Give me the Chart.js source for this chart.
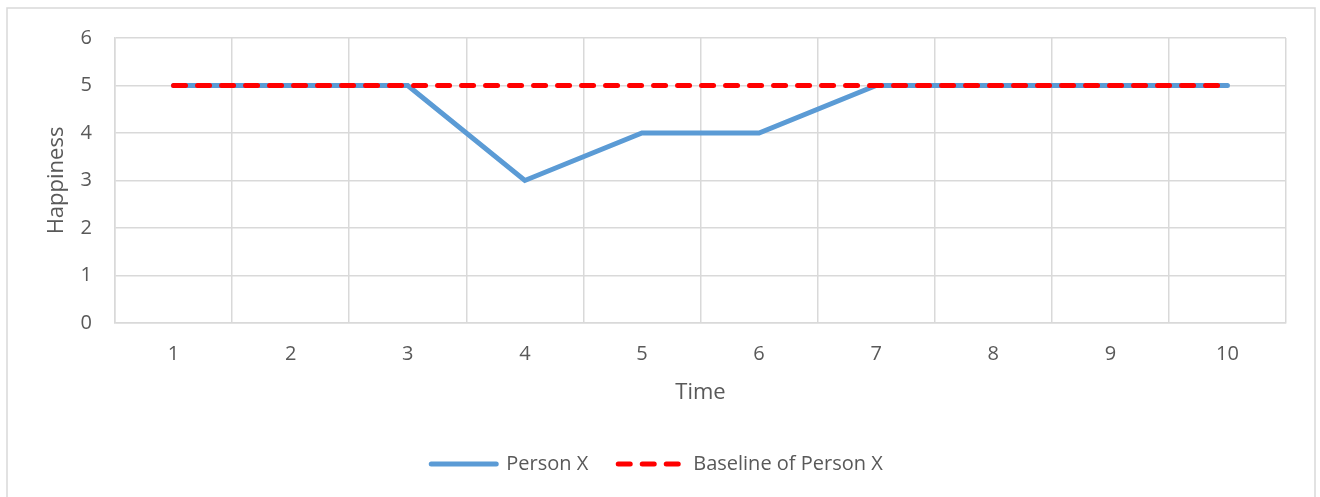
<!DOCTYPE html>
<html>
<head>
<meta charset="utf-8">
<script src="https://cdn.jsdelivr.net/npm/chart.js@4.4.1/dist/chart.umd.min.js"></script>
<style>
  html, body { margin: 0; padding: 0; background: #fff; }
  #wrap { position: relative; width: 1320px; height: 497px; }
</style>
</head>
<body>
<div id="wrap"><canvas id="chart" width="1320" height="497"></canvas></div>
<script>
// chart data
const timeLabels = ['1', '2', '3', '4', '5', '6', '7', '8', '9', '10'];
const personX = [5, 5, 5, 3, 4, 4, 5, 5, 5, 5];
const baselineX = [5, 5, 5, 5, 5, 5, 5, 5, 5, 5];

const textColor = '#595959';
const gridColor = '#d9d9d9';
const fontFamily = "'Open Sans', 'Liberation Sans', sans-serif";

// light frame round the whole chart, like the Excel chart box
const frame = {
  id: 'frame',
  beforeDraw(chart) {
    const ctx = chart.ctx;
    ctx.save();
    ctx.strokeStyle = gridColor;
    ctx.lineWidth = 1.5;
    ctx.strokeRect(7, 8, 1308, 600);
    ctx.restore();
  }
};

const ctx = document.getElementById('chart').getContext('2d');

new Chart(ctx, {
  type: 'line',
  data: {
    labels: timeLabels,
    datasets: [
      {
        label: 'Person X',
        data: personX,
        borderColor: '#5b9bd5',
        backgroundColor: '#5b9bd5',
        borderWidth: 5,
        borderCapStyle: 'round',
        pointRadius: 0,
        tension: 0,
        order: 1
      },
      {
        label: 'Baseline of Person X',
        data: baselineX,
        borderColor: '#ff0000',
        backgroundColor: '#ff0000',
        borderWidth: 5,
        borderDash: [12, 12],
        borderCapStyle: 'round',
        pointRadius: 0,
        tension: 0,
        order: 0
      }
    ]
  },
  options: {
    responsive: false,
    animation: false,
    layout: {
      padding: { top: 38, right: 34, bottom: 13, left: 28 }
    },
    plugins: {
      tooltip: { enabled: false },
      legend: {
        position: 'bottom',
        labels: {
          usePointStyle: true,
          pointStyle: 'line',
          pointStyleWidth: 65,
          padding: 30,
          color: textColor,
          font: { family: fontFamily, size: 20 },
          sort: (a, b) => a.datasetIndex - b.datasetIndex,
          // point style legend drops the dash, so put the line style back
          generateLabels(chart) {
            const items = Chart.defaults.plugins.legend.labels.generateLabels(chart);
            items.forEach(it => {
              const ds = chart.data.datasets[it.datasetIndex];
              it.strokeStyle = ds.borderColor;
              it.fillStyle = ds.borderColor;
              it.lineWidth = ds.borderWidth;
              it.lineDash = ds.borderDash || [];
              it.lineCap = 'round';
              it.pointStyle = 'line';
            });
            return items;
          }
        }
      }
    },
    scales: {
      x: {
        offset: true,
        grid: {
          offset: true,
          color: gridColor,
          lineWidth: 1.5,
          drawTicks: false
        },
        border: { color: gridColor, width: 1.5 },
        ticks: {
          color: textColor,
          padding: 19,
          font: { family: fontFamily, size: 20 }
        },
        title: {
          display: true,
          text: 'Time',
          color: textColor,
          font: { family: fontFamily, size: 22 },
          padding: { top: 0, bottom: 18 }
        },
        afterFit(scale) { scale.height = 101; }
      },
      y: {
        min: 0,
        max: 6,
        grid: {
          color: gridColor,
          lineWidth: 1.5,
          drawTicks: false
        },
        border: { color: gridColor, width: 1.5 },
        ticks: {
          stepSize: 1,
          color: textColor,
          padding: 23,
          font: { family: fontFamily, size: 20 }
        },
        title: {
          display: true,
          text: 'Happiness',
          color: textColor,
          font: { family: fontFamily, size: 22 },
          padding: { top: 16, bottom: 0 }
        },
        afterFit(scale) { scale.width = 87; }
      }
    }
  },
  plugins: [frame]
});
</script>
</body>
</html>
